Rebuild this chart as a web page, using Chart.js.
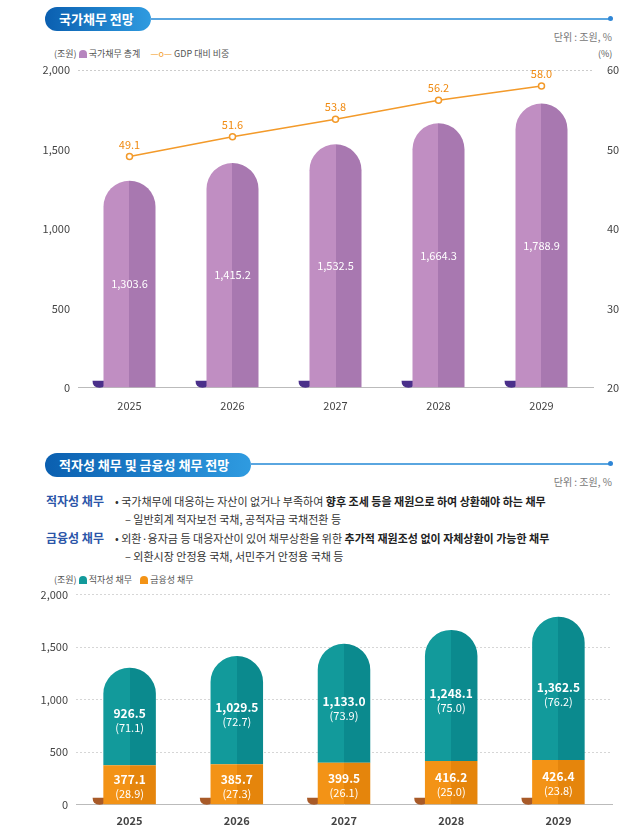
<!DOCTYPE html>
<html><head><meta charset="utf-8">
<script src="https://cdn.jsdelivr.net/npm/chart.js@4"></script>
<style>
body{margin:0;width:640px;height:828px;position:relative;background:#fff;font-family:"Noto Sans CJK KR","Noto Sans",sans-serif;color:#444;overflow:hidden}
.abs{position:absolute;white-space:nowrap}
.pill{position:absolute;height:24px;border-radius:12px;background:linear-gradient(90deg,#0a5fb0,#2f9be0);color:#fff;font-size:13px;font-weight:700;line-height:24px;padding:0 14px;box-sizing:border-box}
.hl{position:absolute;height:2px;background:#5aa6e0}
.dot{position:absolute;width:5px;height:5px;border-radius:50%;background:#2f86d6}
.small{font-size:9px;color:#555}
.unit{font-size:10px;color:#777}
.desc{font-size:11px;color:#333}
.desc b{color:#222}
.t{font-size:12px;font-weight:700;color:#2b55a8}
canvas{position:absolute}
</style></head><body>
<div class="pill" style="left:45px;top:7px;width:106px">국가채무 전망</div>
<div class="hl" style="left:150px;top:18px;width:460px"></div><div class="dot" style="left:608px;top:16px"></div>
<div class="abs unit" style="right:28px;top:29px">단위 : 조원, %</div>
<div class="abs small" style="left:54px;top:47px">(조원) <span style="display:inline-block;width:8px;height:8px;background:#b685be;border-radius:4px 4px 0 0;vertical-align:-1px"></span> 국가채무 총계
&nbsp;&nbsp;&nbsp;&nbsp;<span style="color:#f4a030">—o—</span> GDP 대비 비중</div>
<div class="abs small" style="left:598px;top:47px">(%)</div>

<div class="pill" style="left:45px;top:453px;width:206px">적자성 채무 및 금융성 채무 전망</div>
<div class="hl" style="left:250px;top:463px;width:360px"></div><div class="dot" style="left:608px;top:461px"></div>
<div class="abs unit" style="right:28px;top:474px">단위 : 조원, %</div>
<div class="abs t" style="left:46px;top:492px">적자성 채무</div>
<div class="abs desc" style="left:115px;top:493px">• 국가채무에 대응하는 자산이 없거나 부족하여 <b>향후 조세 등을 재원으로 하여 상환해야 하는 채무</b></div>
<div class="abs desc" style="left:125px;top:511px">– 일반회계 적자보전 국채, 공적자금 국채전환 등</div>
<div class="abs t" style="left:46px;top:529px">금융성 채무</div>
<div class="abs desc" style="left:115px;top:530px">• 외환·융자금 등 대응자산이 있어 채무상환을 위한 <b>추가적 재원조성 없이 자체상환이 가능한 채무</b></div>
<div class="abs desc" style="left:125px;top:548px">– 외환시장 안정용 국채, 서민주거 안정용 국채 등</div>
<div class="abs small" style="left:54px;top:573px">(조원) <span style="display:inline-block;width:8px;height:8px;background:#129a9b;border-radius:4px 4px 0 0;vertical-align:-1px"></span> 적자성 채무
&nbsp;&nbsp;&nbsp;<span style="display:inline-block;width:8px;height:8px;background:#f39316;border-radius:4px 4px 0 0;vertical-align:-1px"></span> 금융성 채무</div>

<canvas id="c1" style="left:0;top:55px;width:640px;height:360px" width="640" height="360"></canvas>
<canvas id="c2" style="left:0;top:580px;width:640px;height:248px" width="640" height="248"></canvas>
<script>
const years=['2025','2026','2027','2028','2029'];
const totalDebt=[1303.6,1415.2,1532.5,1664.3,1788.9];
const gdpRatio=[49.1,51.6,53.8,56.2,58.0];
const deficitDebt=[926.5,1029.5,1133.0,1248.1,1362.5];
const deficitShare=[71.1,72.7,73.9,75.0,76.2];
const financialDebt=[377.1,385.7,399.5,416.2,426.4];
const financialShare=[28.9,27.3,26.1,25.0,23.8];
const yLeftTicks=[0,500,1000,1500,2000];

Chart.defaults.font.family='"Noto Sans CJK KR","Noto Sans",sans-serif';
Chart.defaults.animation=false;
const fmt=v=>v.toLocaleString('en-US',{minimumFractionDigits:1,maximumFractionDigits:1});
const fmtT=v=>v.toLocaleString('en-US');

function twoTone(light,dark,w){return ctx=>{const ch=ctx.chart,xs=ch.scales&&ch.scales.x;if(!xs||ctx.dataIndex===undefined||!ch.chartArea)return light;
 const x=xs.getPixelForValue(ctx.dataIndex);const g=ch.ctx.createLinearGradient(x-w/2,0,x+w/2,0);
 g.addColorStop(0,light);g.addColorStop(0.5,light);g.addColorStop(0.5,dark);g.addColorStop(1,dark);return g;};}

function bowl(color){return {id:'bowl'+color,beforeDatasetsDraw(ch){const c=ch.ctx,xs=ch.scales.x,ys=ch.scales.y;const y0=ys.getPixelForValue(0);
 years.forEach((_,i)=>{const x=xs.getPixelForValue(i)-30;c.save();c.fillStyle=color;c.beginPath();c.moveTo(x-7,y0-7);c.lineTo(x+7,y0-7);c.quadraticCurveTo(x+7,y0,x,y0);c.quadraticCurveTo(x-7,y0,x-7,y0-7);c.fill();c.restore();});}};}

new Chart(document.getElementById('c1'),{
 type:'bar',
 data:{labels:years,datasets:[
  {type:'line',data:gdpRatio,yAxisID:'y2',borderColor:'#f39a2a',borderWidth:1.5,pointBackgroundColor:'#fff',pointBorderColor:'#f39a2a',pointRadius:3,pointBorderWidth:1.5,order:0},
  {data:totalDebt,backgroundColor:twoTone('#c08ec2','#a878b0',52),borderRadius:{topLeft:26,topRight:26},borderSkipped:'start',categoryPercentage:0.505,barPercentage:1,order:1}
 ]},
 options:{responsive:false,layout:{padding:{top:15}},plugins:{legend:{display:false},tooltip:{enabled:false}},
  scales:{
   x:{grid:{display:false},border:{color:'#bbb'},ticks:{color:'#444',font:{size:11}}},
   y:{min:0,max:2000,afterFit(s){s.width=78},afterBuildTicks(s){s.ticks=yLeftTicks.map(v=>({value:v}))},ticks:{color:'#444',font:{size:11},callback:v=>fmtT(v),padding:8},grid:{color:c=>c.tick.value===2000?'#ccc':'transparent',drawTicks:false},border:{display:false,dash:[2,2]}},
   y2:{position:'right',min:20,max:60,afterFit(s){s.width=47},ticks:{stepSize:10,color:'#444',font:{size:11},padding:6},grid:{display:false},border:{display:false}}
  }},
 plugins:[bowl('#4a2f8a'),{id:'lab1',afterDatasetsDraw(ch){const c=ch.ctx,xs=ch.scales.x,ys=ch.scales.y,y2=ch.scales.y2;c.save();c.textAlign='center';c.font='11px "Noto Sans CJK KR"';
  years.forEach((_,i)=>{const x=xs.getPixelForValue(i);c.fillStyle='#fff';c.fillText(fmt(totalDebt[i]),x,ys.getPixelForValue(totalDebt[i]/2)+4);
   c.fillStyle='#f08a10';c.fillText(gdpRatio[i].toFixed(1),x,y2.getPixelForValue(gdpRatio[i])-8);});c.restore();}}]
});

new Chart(document.getElementById('c2'),{
 type:'bar',
 data:{labels:years,datasets:[
  {data:financialDebt,backgroundColor:twoTone('#f39316','#e5850c',52),borderRadius:0,borderSkipped:false,categoryPercentage:0.49,barPercentage:1},
  {data:deficitDebt,backgroundColor:twoTone('#129a9b','#0b8a8e',52),borderRadius:{topLeft:26,topRight:26},borderSkipped:'start',categoryPercentage:0.49,barPercentage:1}
 ]},
 options:{responsive:false,layout:{padding:{top:14,right:28}},plugins:{legend:{display:false},tooltip:{enabled:false}},
  scales:{
   x:{stacked:true,grid:{display:false},border:{color:'#bbb'},ticks:{color:'#444',font:{size:11,weight:'bold'},padding:1}},
   y:{stacked:true,min:0,max:2000,afterFit(s){s.width=76},ticks:{stepSize:500,color:'#444',font:{size:11},callback:v=>fmtT(v),padding:8},grid:{color:c=>c.tick.value===0?'transparent':'#d6d6d6',drawTicks:false},border:{display:false,dash:[2,2]}}
  }},
 plugins:[bowl('#a85a28'),{id:'lab2',afterDatasetsDraw(ch){const c=ch.ctx,xs=ch.scales.x,ys=ch.scales.y;c.save();c.textAlign='center';c.fillStyle='#fff';
  years.forEach((_,i)=>{const x=xs.getPixelForValue(i);const yf=ys.getPixelForValue(financialDebt[i]/2);const yd=ys.getPixelForValue(financialDebt[i]+deficitDebt[i]*0.47);
   c.font='bold 12px "Noto Sans CJK KR"';c.fillText(fmt(financialDebt[i]),x,yf-1);c.fillText(fmt(deficitDebt[i]),x,yd-1);
   c.font='11px "Noto Sans CJK KR"';c.fillText('('+financialShare[i].toFixed(1)+')',x,yf+13);c.fillText('('+deficitShare[i].toFixed(1)+')',x,yd+13);});c.restore();}}]
});
</script></body></html>
